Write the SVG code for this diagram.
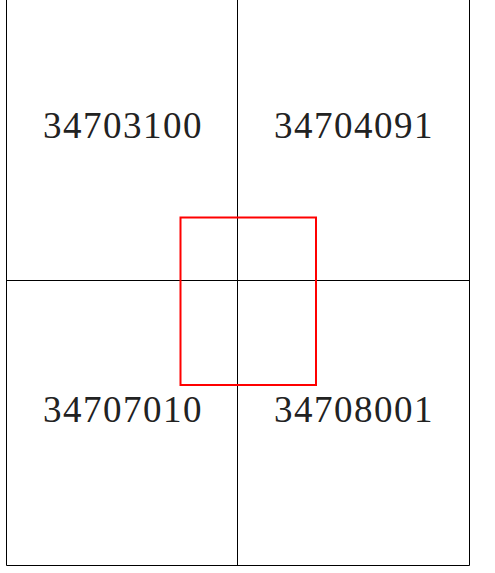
<svg xmlns="http://www.w3.org/2000/svg" width="495" height="573" viewBox="0 0 495 573">
<style>
.grid{stroke:#000;stroke-width:1;fill:none}
.lbl{font-family:"Liberation Serif","DejaVu Serif",serif;font-size:37px;fill:#222;text-anchor:middle;letter-spacing:1.5px}
</style>
<rect width="495" height="573" fill="#fff"/>
<g id="connectors">
<line class="grid" x1="6.5" y1="0" x2="6.5" y2="565.5"/>
<line class="grid" x1="237.5" y1="0" x2="237.5" y2="565.5"/>
<line class="grid" x1="469.5" y1="0" x2="469.5" y2="565.5"/>
<line class="grid" x1="6.5" y1="280.5" x2="469.5" y2="280.5"/>
<line class="grid" x1="6.5" y1="565.5" x2="469.5" y2="565.5"/>
</g>
<g id="n34703100"><text class="lbl" x="123" y="138">34703100</text></g>
<g id="n34704091"><text class="lbl" x="354" y="138">34704091</text></g>
<g id="n34707010"><text class="lbl" x="123" y="422">34707010</text></g>
<g id="n34708001"><text class="lbl" x="354" y="422">34708001</text></g>
<g id="selection"><rect x="180.5" y="217.5" width="135.5" height="167.5" fill="none" stroke="#f00" stroke-width="2"/></g>
</svg>
